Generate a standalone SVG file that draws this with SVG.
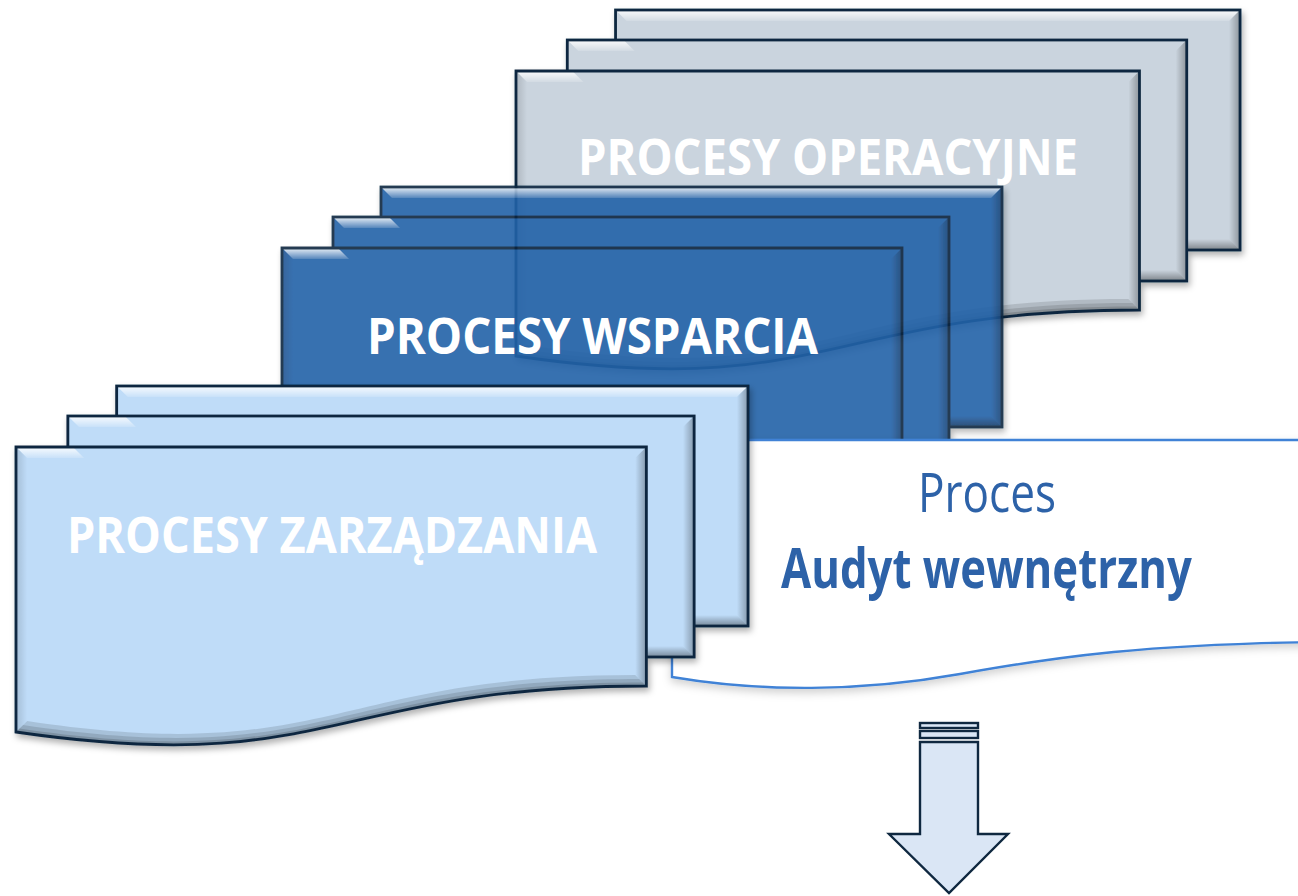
<svg xmlns="http://www.w3.org/2000/svg" xmlns:xlink="http://www.w3.org/1999/xlink" width="1298" height="896" viewBox="0 0 1298 896">
  <style>
    .edge { fill: none; stroke: #0f2840; stroke-width: 2.8; stroke-linejoin: miter; }
    .sheet { fill: currentColor; }
    .title { font-family: "Open Sans", "Noto Sans", "DejaVu Sans", sans-serif; font-weight: 700; font-size: 50px; fill: #ffffff; }
    .doc-text { font-family: "Open Sans", "Noto Sans", "DejaVu Sans", sans-serif; font-size: 55px; fill: #2d62a8; }
    .doc-edge { fill: #ffffff; stroke: #3f82d6; stroke-width: 2.4; }
    .arrow { fill: #dae6f5; stroke: #0f2840; stroke-width: 2.4; stroke-linejoin: miter; }
  </style>
  <defs>
    <!-- bevel shading -->
    <linearGradient id="hiTop" x1="0" y1="0" x2="0" y2="1">
      <stop offset="0" stop-color="#ffffff" stop-opacity="0.9"/>
      <stop offset="1" stop-color="#ffffff" stop-opacity="0.15"/>
    </linearGradient>
    <linearGradient id="shRight" x1="0" y1="0" x2="1" y2="0">
      <stop offset="0" stop-color="#000000" stop-opacity="0"/>
      <stop offset="1" stop-color="#000000" stop-opacity="0.3"/>
    </linearGradient>
    <linearGradient id="shBottom" x1="0" y1="0" x2="0" y2="1">
      <stop offset="0" stop-color="#000000" stop-opacity="0"/>
      <stop offset="1" stop-color="#000000" stop-opacity="0.38"/>
    </linearGradient>
    <linearGradient id="shLeft" x1="0" y1="0" x2="1" y2="0">
      <stop offset="0" stop-color="#000000" stop-opacity="0.14"/>
      <stop offset="1" stop-color="#000000" stop-opacity="0"/>
    </linearGradient>
    <filter id="drop" x="-5%" y="-5%" width="115%" height="120%">
      <feDropShadow dx="2" dy="4" stdDeviation="3" flood-color="#000000" flood-opacity="0.3"/>
    </filter>
    <filter id="softDrop" x="-5%" y="-10%" width="115%" height="130%">
      <feDropShadow dx="0" dy="4" stdDeviation="4" flood-color="#000000" flood-opacity="0.18"/>
    </filter>

    <!-- three stacked sheets, 720 x 360 -->
    <g id="multidoc">
      <!-- back sheet -->
      <rect class="sheet" x="99" y="0" width="621" height="240"/>
      <polygon points="99,0 720,0 709,11 110,11" fill="url(#hiTop)"/>
      <polygon points="720,0 720,240 709,229 709,11" fill="url(#shRight)"/>
      <polygon points="99,240 720,240 709,229 110,229" fill="url(#shBottom)"/>
      <rect class="edge" x="99" y="0" width="621" height="240"/>
      <!-- middle sheet -->
      <rect class="sheet" x="51" y="30" width="616" height="241"/>
      <polygon points="51,30 107,30 118,41 62,41" fill="url(#hiTop)"/>
      <polygon points="667,30 667,271 656,260 656,41" fill="url(#shRight)"/>
      <polygon points="51,271 667,271 656,260 62,260" fill="url(#shBottom)"/>
      <rect class="edge" x="51" y="30" width="616" height="241"/>
      <!-- front sheet with wavy bottom -->
      <path class="sheet" d="M0,61 H620 V300 C310,300 310,392 0,346 Z"/>
      <polygon points="0,61 56,61 67,72 11,72" fill="url(#hiTop)"/>
      <polygon points="0,61 11,72 11,335 0,346" fill="url(#shLeft)"/>
      <polygon points="620,61 620,300 609,289 609,72" fill="url(#shRight)"/>
      <path d="M0,346 C310,392 310,300 620,300 L609,289 C310,289 310,381 11,335 Z" fill="#000000" fill-opacity="0.12"/>
      <path d="M0,346 C310,392 310,300 620,300 L613,293 C310,293 310,385 7,339 Z" fill="#000000" fill-opacity="0.12"/>
      <path d="M0,346 C310,392 310,300 620,300 L616.5,296.5 C310,296.5 310,388.5 3.5,342.5 Z" fill="#000000" fill-opacity="0.14"/>
      <path class="edge" d="M0,61 H620 V300 C310,300 310,392 0,346 Z"/>
    </g>
  </defs>

  <!-- operational processes -->
  <g id="procesy-operacyjne">
    <use xlink:href="#multidoc" transform="translate(516,10) scale(1.0056,1)" style="color:#cad4de" filter="url(#drop)"/>
    <text class="title" x="578" y="175" textLength="500" lengthAdjust="spacingAndGlyphs">PROCESY OPERACYJNE</text>
  </g>

  <!-- support processes -->
  <g id="procesy-wsparcia">
    <use xlink:href="#multidoc" transform="translate(282,187)" style="color:#2462a8" opacity="0.9" filter="url(#drop)"/>
    <text class="title" x="367" y="354" textLength="451" lengthAdjust="spacingAndGlyphs">PROCESY WSPARCIA</text>
  </g>

  <!-- internal audit document -->
  <g id="audyt-wewnetrzny">
    <path class="doc-edge" filter="url(#softDrop)" d="M672,440 H1320 V642 C1150,644 1060,656 960,674 C860,692 760,692 672,677 Z"/>
    <text class="doc-text" x="918" y="512" textLength="138" lengthAdjust="spacingAndGlyphs">Proces</text>
    <text class="doc-text" x="781" y="588" font-weight="700" textLength="411" lengthAdjust="spacingAndGlyphs">Audyt wewnętrzny</text>
  </g>

  <!-- management processes -->
  <g id="procesy-zarzadzania">
    <use xlink:href="#multidoc" transform="translate(16,386) scale(1.0167,1)" style="color:#bfdcf8" filter="url(#drop)"/>
    <text class="title" x="67" y="553" textLength="530" lengthAdjust="spacingAndGlyphs">PROCESY ZARZĄDZANIA</text>
  </g>

  <!-- downward striped arrow -->
  <g id="connectors">
    <rect class="arrow" x="920" y="723" width="58" height="5"/>
    <rect class="arrow" x="920" y="731" width="58" height="7"/>
    <path class="arrow" d="M920,742 H978 V834 H1008 L949,893 L889,834 H920 Z"/>
  </g>
</svg>
